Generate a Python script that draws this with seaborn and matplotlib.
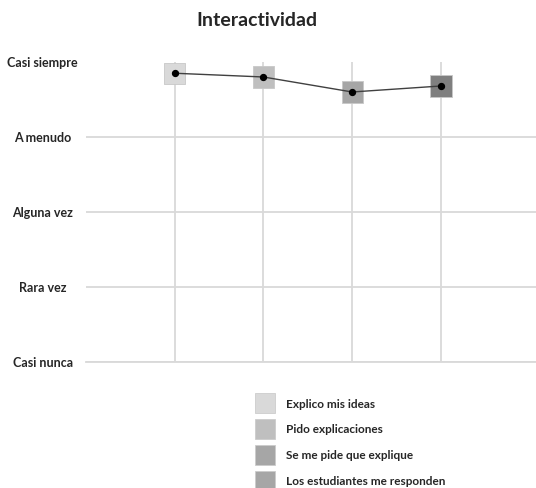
import matplotlib
matplotlib.use('Agg')
import matplotlib.pyplot as plt
import seaborn as sns
import pandas as pd
from matplotlib.lines import Line2D

# datos
items = ['Explico mis ideas', 'Pido explicaciones', 'Se me pide que explique', 'Los estudiantes me responden']
posicion = [1, 2, 3, 4]
valores = [4.85, 4.80, 4.60, 4.68]
niveles = [1, 2, 3, 4, 5]
etiquetas = ['Casi nunca', 'Rara vez', 'Alguna vez', 'A menudo', 'Casi siempre']
colores = ['#d9d9d9', '#bfbfbf', '#a6a6a6', '#7f7f7f']
colores_leyenda = ['#d9d9d9', '#bfbfbf', '#a6a6a6', '#a6a6a6']

df = pd.DataFrame({'item': items, 'x': posicion, 'valor': valores})

sns.set_style('white')
plt.rcParams['font.family'] = ['Lato', 'DejaVu Sans']

fig = plt.figure(figsize=(5.36, 4.88), dpi=100)
ax = fig.add_axes([0.160, 0.258, 0.84, 0.615])

# cuadros
sns.scatterplot(data=df, x='x', y='valor', hue='item', palette=colores, marker='s',
                s=230, edgecolor='#c8c8c8', linewidth=0.6, legend=False, ax=ax, zorder=3)
# linea
sns.lineplot(data=df, x='x', y='valor', color='#404040', linewidth=1.0, ax=ax, zorder=4)
# puntos
ax.scatter(df['x'], df['valor'], marker='o', s=18, color='black', zorder=5)

ax.set_xlim(0, 5.07)
ax.set_ylim(1, 5)
ax.set_xticks(posicion)
ax.set_xticklabels([])
ax.set_yticks(niveles)
ax.set_yticklabels(etiquetas, fontsize=9, fontweight='bold', ha='center')
ax.tick_params(axis='y', length=0, pad=31)
ax.tick_params(axis='x', length=0)
ax.grid(True, color='#d9d9d9', linewidth=1.3)
ax.yaxis.get_gridlines()[-1].set_visible(False)
ax.set_xlabel('')
ax.set_ylabel('')
for s in ['top', 'right', 'left']:
    ax.spines[s].set_visible(False)
ax.spines['bottom'].set_color('#d9d9d9')
ax.spines['bottom'].set_linewidth(1.3)

fig.suptitle('Interactividad', fontsize=14, fontweight='bold', x=0.48, y=0.975)

handles = [Line2D([], [], marker='s', linestyle='none', markersize=14,
                  markerfacecolor=c, markeredgecolor='#cccccc', markeredgewidth=0.6)
           for c in colores_leyenda]
fig.legend(handles, items, loc='upper left', bbox_to_anchor=(0.46, 0.205), frameon=False,
           prop={'size': 8.5, 'weight': 'bold'}, handletextpad=1.1, labelspacing=1.25,
           handlelength=1.3)

fig.savefig('out.png', dpi=100)
